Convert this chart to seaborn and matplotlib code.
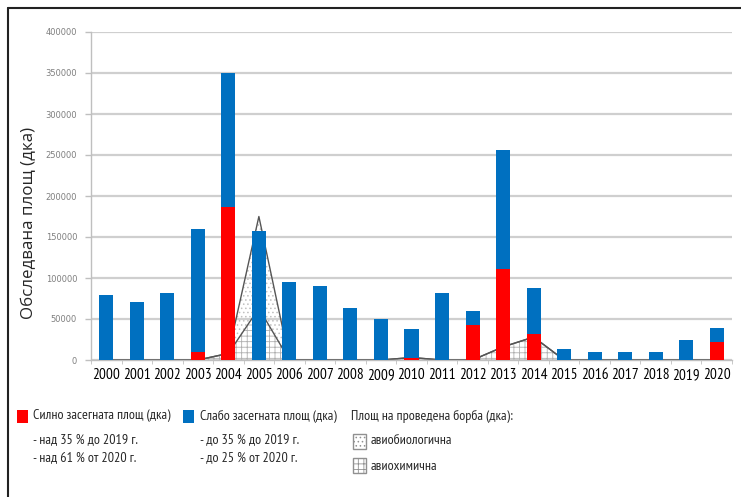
import numpy as np
import pandas as pd
import matplotlib
matplotlib.use("Agg")
import matplotlib.pyplot as plt
import seaborn as sns
from matplotlib.patches import Rectangle
from matplotlib.lines import Line2D
import logging
logging.getLogger("matplotlib.font_manager").setLevel(logging.ERROR)

# ---------------- data ----------------
years = [str(y) for y in range(2000, 2021)]
heavy = [0, 0, 0, 10000, 187000, 0, 0, 0, 0, 0, 3000, 0, 43000, 111000, 32000,
         0, 0, 0, 0, 0, 22000]                      # Силно засегната площ
light = [79000, 71000, 82000, 150000, 163000, 157000, 95000, 90000, 64000, 50000,
         35000, 82000, 17000, 145000, 56000, 13000, 10000, 10000, 10000, 24000,
         17000]                                     # Слабо засегната площ
chem = [0, 0, 0, 0, 8000, 63000, 0, 0, 0, 0, 3000, 0, 0, 16000, 28000,
        0, 0, 0, 0, 0, 0]                           # авиохимична
bio = [0, 0, 0, 0, 0, 112000, 0, 0, 0, 0, 0, 0, 0, 0, 0,
       0, 0, 0, 0, 0, 0]                            # авиобиологична
yticks = list(range(0, 400001, 50000))

RED = "#FF0000"
BLUE = "#0070C0"
NARROW = ["PT Sans Narrow", "Roboto Condensed", "DejaVu Sans"]

total = np.array(heavy) + np.array(light)
df = pd.DataFrame({"year": years, "total": total, "heavy": heavy})

sns.set_style("white")
plt.rcParams["hatch.linewidth"] = 0.6
plt.rcParams["font.family"] = NARROW

fig = plt.figure(figsize=(7.41, 4.97), dpi=100)
W, H = 741, 497
ax = fig.add_axes([91 / W, 137 / H, 641 / W, 328 / H])

# areas (behind bars)
x = np.arange(len(years))
c = np.array(chem, dtype=float)
b = np.array(bio, dtype=float)
ax.fill_between(x, 0, c, facecolor="none", hatch="+++", edgecolor="#b0b0b0",
                linewidth=0, zorder=2)
ax.fill_between(x, c, c + b, facecolor="none", hatch="....", edgecolor="#c0c0c0",
                linewidth=0, zorder=2)
ax.plot(x, c, color="#555555", lw=1.0, zorder=2.5)
ax.plot(x, c + b, color="#555555", lw=1.0, zorder=2.5)

# stacked bars
sns.barplot(data=df, x="year", y="total", color=BLUE, saturation=1, width=0.46,
            ax=ax)
sns.barplot(data=df, x="year", y="heavy", color=RED, saturation=1, width=0.46,
            ax=ax)
for p in ax.patches:
    p.set_zorder(3)
    p.set_linewidth(0)

ax.set_xlim(-0.5, 20.5)
ax.set_ylim(0, 400000)
ax.set_yticks(yticks)
ax.set_yticklabels([str(v) for v in yticks], fontsize=6, color="#7f7f7f",
                   family="DejaVu Sans")
ax.yaxis.grid(True, color="#cfcfcf", lw=1.6, zorder=0)
ax.set_axisbelow(True)
ax.tick_params(axis="y", length=4, color="#bfbfbf", width=1, pad=6, left=True)
ax.set_xticks(x, years)
ax.tick_params(axis="x", length=0, labelsize=11, pad=6, colors="black")
ax.set_xticks(np.arange(-0.5, 20.6, 1), minor=True)
ax.tick_params(axis="x", which="minor", length=3, color="#bfbfbf", bottom=True)
for s in ["top", "right"]:
    ax.spines[s].set_visible(False)
for s in ["left", "bottom"]:
    ax.spines[s].set_color("#bfbfbf")
    ax.spines[s].set_linewidth(1)
ax.set_xlabel("")
ax.set_ylabel("Обследвана площ (дка)", fontsize=12.2,
              family=["Open Sans", "DejaVu Sans"])
ax.yaxis.set_label_coords(-0.084, 0.418)

# outer frame (left and top)
fig.add_artist(Line2D([8 / W, 8 / W], [0, 1 - 8 / H], transform=fig.transFigure,
                      color="#222222", lw=1.5))
fig.add_artist(Line2D([8 / W, 1], [1 - 8 / H, 1 - 8 / H], transform=fig.transFigure,
                      color="#222222", lw=1.5))

# legend
def fx(px):
    return px / W

def fy(py):
    return 1 - py / H

fs = 10.1
fig.add_artist(Rectangle((fx(17), fy(423)), 11 / W, 13 / H, transform=fig.transFigure,
                         facecolor=RED, edgecolor="none"))
fig.text(fx(33), fy(416), "Силно засегната площ (дка)", fontsize=fs, va="center")
fig.text(fx(33), fy(440), "- над 35 % до 2019 г.", fontsize=fs, va="center")
fig.text(fx(33), fy(458), "- над 61 % от 2020 г.", fontsize=fs, va="center")

fig.add_artist(Rectangle((fx(183), fy(423)), 11 / W, 13 / H, transform=fig.transFigure,
                         facecolor=BLUE, edgecolor="none"))
fig.text(fx(200), fy(416), "Слабо засегната площ (дка)", fontsize=fs, va="center")
fig.text(fx(200), fy(440), "- до 35 % до 2019 г.", fontsize=fs, va="center")
fig.text(fx(200), fy(458), "- до 25 % от 2020 г.", fontsize=fs, va="center")

fig.text(fx(351), fy(416), "Площ на проведена борба (дка):", fontsize=fs, va="center")
fig.add_artist(Rectangle((fx(353), fy(449)), 13 / W, 15 / H, transform=fig.transFigure,
                         facecolor="white", edgecolor="#909090", hatch="....", lw=1))
fig.text(fx(371), fy(441), "авиобиологична", fontsize=fs, va="center")
fig.add_artist(Rectangle((fx(353), fy(473)), 13 / W, 15 / H, transform=fig.transFigure,
                         facecolor="white", edgecolor="#909090", hatch="+++", lw=1))
fig.text(fx(371), fy(466), "авиохимична", fontsize=fs, va="center")

fig.savefig("out.png", dpi=100)
